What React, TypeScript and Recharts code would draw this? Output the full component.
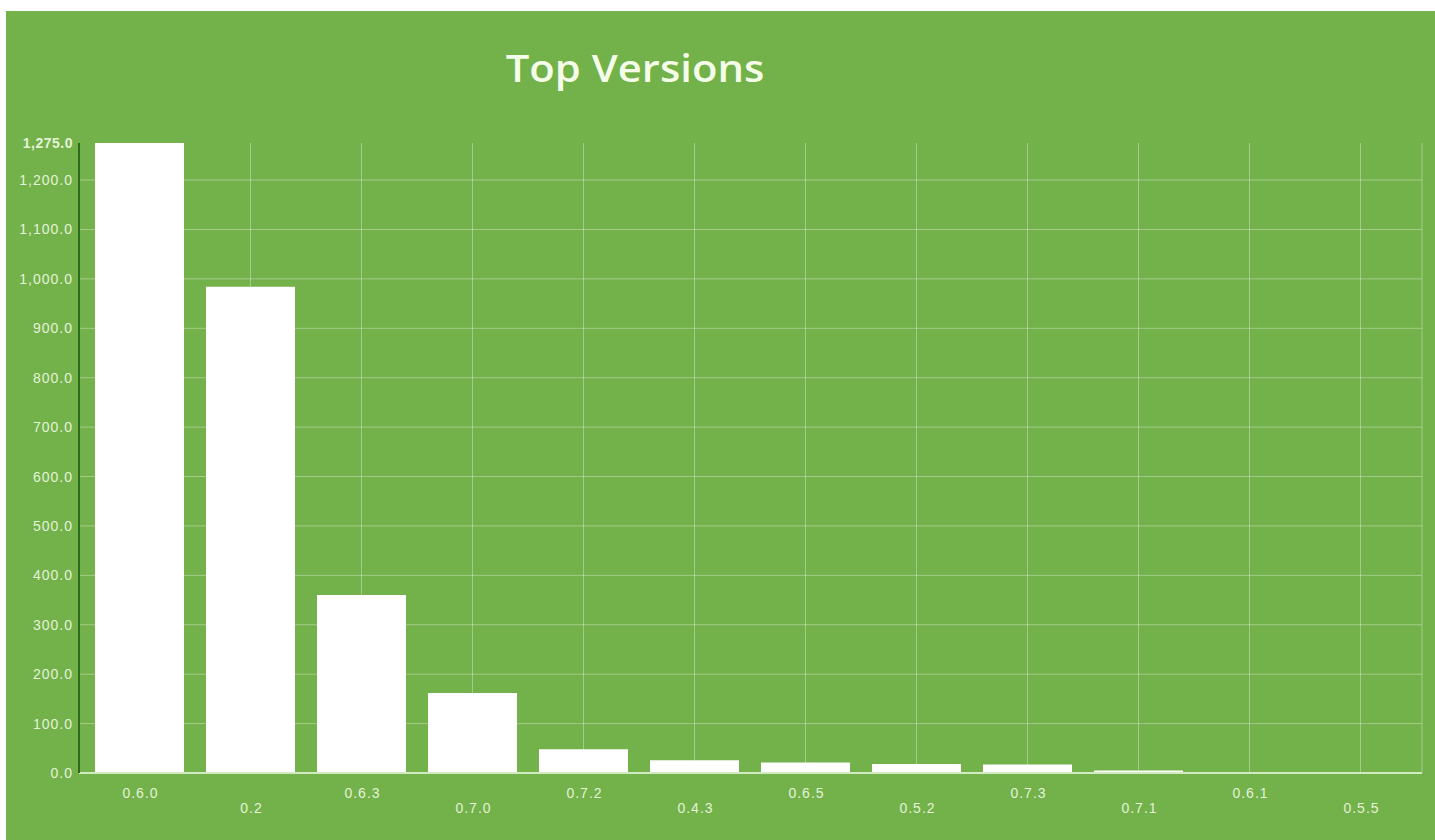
import React from 'react';
import { BarChart, Bar, XAxis, YAxis, CartesianGrid } from 'recharts';

const categories = ['0.6.0', '0.2', '0.6.3', '0.7.0', '0.7.2', '0.4.3', '0.6.5', '0.5.2', '0.7.3', '0.7.1', '0.6.1', '0.5.5'];
const downloads = [1275, 984, 360, 162, 48, 26, 21, 18, 17, 5, 2, 1.5];
const yTicks = [0, 100, 200, 300, 400, 500, 600, 700, 800, 900, 1000, 1100, 1200, 1275];
const gridValues = [100, 200, 300, 400, 500, 600, 700, 800, 900, 1000, 1100, 1200];

const data = categories.map((name, i) => ({ name, value: downloads[i] }));

const LABEL = '#e4f3d8';
const FONT = '"Liberation Sans", Arial, sans-serif';

const fmt = (v: number) =>
  v.toLocaleString('en-US', { minimumFractionDigits: 1, maximumFractionDigits: 1 });

const XTick = (props: any) => {
  const { x, y, payload, index } = props;
  const dy = index % 2 === 0 ? 12 : 27;
  return (
    <text
      x={x + 1}
      y={y + dy}
      textAnchor="middle"
      dominantBaseline="central"
      fill={LABEL}
      fontSize={14}
      fontFamily={FONT}
      letterSpacing={1}
    >
      {payload.value}
    </text>
  );
};

const YTick = (props: any) => {
  const { x, y, payload } = props;
  const top = payload.value === 1275;
  return (
    <text
      x={x + 2}
      y={y}
      textAnchor="end"
      dominantBaseline="central"
      fill={LABEL}
      fontSize={14}
      fontWeight={top ? 'bold' : 'normal'}
      fontFamily={FONT}
      letterSpacing={top ? 0.5 : 1}
    >
      {fmt(payload.value)}
    </text>
  );
};

export default function App() {
  return (
    <div
      style={{
        position: 'absolute',
        left: 6,
        top: 11,
        width: 1429,
        height: 829,
        background: '#73b14a',
        overflow: 'hidden',
      }}
    >
      <div
        style={{
          position: 'absolute',
          left: 0,
          width: 1258,
          top: 31,
          textAlign: 'center',
          color: '#f4fde8',
          fontFamily: '"Open Sans", sans-serif',
          fontWeight: 600,
          fontSize: 38,
          lineHeight: '50px',
          transform: 'scaleX(1.1)',
          transformOrigin: '629px 0',
        }}
      >
        Top Versions
      </div>
      <BarChart
        width={1429}
        height={829}
        data={data}
        margin={{ top: 132, right: 13, left: 13, bottom: 27 }}
        barSize={89}
      >
        <CartesianGrid
          stroke="rgba(255,255,255,0.35)"
          horizontalValues={gridValues}
        />
        <XAxis
          dataKey="name"
          interval={0}
          tickLine={false}
          axisLine={{ stroke: '#d2eac0', strokeWidth: 2 }}
          tick={<XTick />}
          padding={{ left: 5, right: 6 }}
          height={40}
        />
        <YAxis
          width={60}
          domain={[0, 1275]}
          ticks={yTicks}
          interval={0}
          tickLine={false}
          axisLine={{ stroke: '#2e6a1c', strokeWidth: 2 }}
          tick={<YTick />}
        />
        <Bar dataKey="value" fill="#ffffff" isAnimationActive={false} />
      </BarChart>
    </div>
  );
}
